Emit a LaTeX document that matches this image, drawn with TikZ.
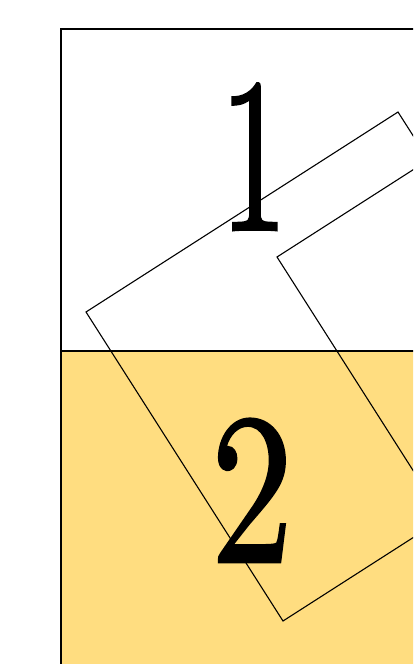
\documentclass[tikz,border=0pt]{standalone}
\usepackage{graphicx}
\usepackage{fontspec}
\newfontfamily\heavydigits[FakeBold=1.3]{Latin Modern Roman}
\definecolor{paleyellow}{RGB}{255,221,128}
\tikzset{
  frameline/.style={line width=1.3pt, line join=miter},
  tiltline/.style={line width=1.1pt, line join=miter},
  bigdigit/.style={font=\fontsize{10}{12}\heavydigits, anchor=base, inner sep=0pt}
}
\begin{document}
\begin{tikzpicture}[x=1pt,y=-1pt]
\useasboundingbox (0,0) rectangle (413,664);
\clip (0,0) rectangle (413,664);
% lower filled band
\fill[paleyellow] (61,351) rectangle (700,700);
% frame
\draw[frameline] (61,700) -- (61,29) -- (700,29);
\draw[frameline] (61,351) -- (700,351);
% tilted squares
\draw[tiltline] (86,312) -- (398,112) -- (595,421) -- (283,621) -- cycle;
\draw[tiltline] (589,57) -- (277,257) -- (474,566);
% digits
\node[bigdigit] (one) at (254,230) {\scalebox{13.5}[22]{1}};
\node[bigdigit] (two) at (252,562) {\scalebox{16.5}[21.5]{2}};
\end{tikzpicture}
\end{document}
